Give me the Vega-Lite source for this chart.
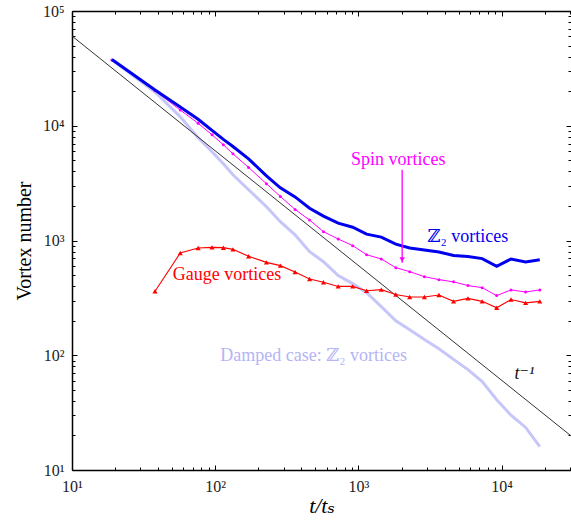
{
  "$schema": "https://vega.github.io/schema/vega-lite/v6.json",
  "width": 499,
  "height": 459,
  "autosize": {"type": "none"},
  "padding": {"left": 72, "top": 11, "right": 0, "bottom": 50},
  "background": "white",
  "config": {
    "view": {"stroke": null},
    "font": "Liberation Serif, Times New Roman, DejaVu Serif, serif",
    "axis": {
      "grid": false,
      "labelFont": "Liberation Serif, Times New Roman, DejaVu Serif, serif",
      "labelFontSize": 16,
      "labelColor": "#222",
      "tickColor": "#000",
      "tickWidth": 1,
      "domainColor": "#000",
      "domainWidth": 1.5,
      "titleFont": "Liberation Serif, Times New Roman, DejaVu Serif, serif",
      "titleFontWeight": "normal",
      "titleColor": "#000",
      "labelFlush": false,
      "labelOverlap": false
    }
  },
  "datasets": {
    "series": [
      {"series": "z2", "t": 19, "n": 37800}, {"series": "z2", "t": 38, "n": 20500}, {"series": "z2", "t": 57, "n": 14600}, {"series": "z2", "t": 76, "n": 11400}, {"series": "z2", "t": 95, "n": 9100}, {"series": "z2", "t": 114, "n": 7600}, {"series": "z2", "t": 133, "n": 6600}, {"series": "z2", "t": 171, "n": 5150}, {"series": "z2", "t": 228, "n": 3660}, {"series": "z2", "t": 285, "n": 2880}, {"series": "z2", "t": 361, "n": 2400}, {"series": "z2", "t": 456, "n": 1910}, {"series": "z2", "t": 570, "n": 1630}, {"series": "z2", "t": 722, "n": 1415}, {"series": "z2", "t": 912, "n": 1305}, {"series": "z2", "t": 1140, "n": 1135}, {"series": "z2", "t": 1444, "n": 1070}, {"series": "z2", "t": 1824, "n": 930}, {"series": "z2", "t": 2280, "n": 860}, {"series": "z2", "t": 2888, "n": 825}, {"series": "z2", "t": 3648, "n": 795}, {"series": "z2", "t": 4617, "n": 740}, {"series": "z2", "t": 5814, "n": 725}, {"series": "z2", "t": 7315, "n": 695}, {"series": "z2", "t": 9234, "n": 595}, {"series": "z2", "t": 11628, "n": 690}, {"series": "z2", "t": 14706, "n": 650}, {"series": "z2", "t": 18468, "n": 680},
      {"series": "spin", "t": 19, "n": 37500}, {"series": "spin", "t": 38, "n": 20200}, {"series": "spin", "t": 57, "n": 13700}, {"series": "spin", "t": 76, "n": 10500}, {"series": "spin", "t": 95, "n": 8340}, {"series": "spin", "t": 114, "n": 6820}, {"series": "spin", "t": 133, "n": 5690}, {"series": "spin", "t": 171, "n": 4330}, {"series": "spin", "t": 228, "n": 3120}, {"series": "spin", "t": 285, "n": 2420}, {"series": "spin", "t": 361, "n": 1865}, {"series": "spin", "t": 456, "n": 1507}, {"series": "spin", "t": 570, "n": 1193}, {"series": "spin", "t": 722, "n": 1031}, {"series": "spin", "t": 912, "n": 902}, {"series": "spin", "t": 1140, "n": 752}, {"series": "spin", "t": 1444, "n": 690}, {"series": "spin", "t": 1824, "n": 580}, {"series": "spin", "t": 2280, "n": 535}, {"series": "spin", "t": 2888, "n": 484}, {"series": "spin", "t": 3648, "n": 456}, {"series": "spin", "t": 4617, "n": 436}, {"series": "spin", "t": 5814, "n": 405}, {"series": "spin", "t": 7315, "n": 388}, {"series": "spin", "t": 9234, "n": 331}, {"series": "spin", "t": 11628, "n": 371}, {"series": "spin", "t": 14706, "n": 356}, {"series": "spin", "t": 18468, "n": 371},
      {"series": "gauge", "t": 38, "n": 361}, {"series": "gauge", "t": 57, "n": 778}, {"series": "gauge", "t": 76, "n": 861}, {"series": "gauge", "t": 95, "n": 871}, {"series": "gauge", "t": 114, "n": 866}, {"series": "gauge", "t": 133, "n": 837}, {"series": "gauge", "t": 171, "n": 728}, {"series": "gauge", "t": 228, "n": 645}, {"series": "gauge", "t": 285, "n": 604}, {"series": "gauge", "t": 361, "n": 532}, {"series": "gauge", "t": 456, "n": 462}, {"series": "gauge", "t": 570, "n": 432}, {"series": "gauge", "t": 722, "n": 398}, {"series": "gauge", "t": 912, "n": 398}, {"series": "gauge", "t": 1140, "n": 365}, {"series": "gauge", "t": 1444, "n": 373}, {"series": "gauge", "t": 1824, "n": 338}, {"series": "gauge", "t": 2280, "n": 322}, {"series": "gauge", "t": 2888, "n": 322}, {"series": "gauge", "t": 3648, "n": 335}, {"series": "gauge", "t": 4617, "n": 295}, {"series": "gauge", "t": 5814, "n": 313}, {"series": "gauge", "t": 7315, "n": 295}, {"series": "gauge", "t": 9234, "n": 259}, {"series": "gauge", "t": 11628, "n": 306}, {"series": "gauge", "t": 14706, "n": 286}, {"series": "gauge", "t": 18468, "n": 295},
      {"series": "damped", "t": 19, "n": 37500}, {"series": "damped", "t": 38, "n": 19700}, {"series": "damped", "t": 57, "n": 11950}, {"series": "damped", "t": 76, "n": 7850}, {"series": "damped", "t": 95, "n": 5930}, {"series": "damped", "t": 114, "n": 4660}, {"series": "damped", "t": 133, "n": 3740}, {"series": "damped", "t": 171, "n": 2770}, {"series": "damped", "t": 228, "n": 1970}, {"series": "damped", "t": 285, "n": 1458}, {"series": "damped", "t": 361, "n": 1122}, {"series": "damped", "t": 456, "n": 800}, {"series": "damped", "t": 570, "n": 654}, {"series": "damped", "t": 722, "n": 494}, {"series": "damped", "t": 912, "n": 421}, {"series": "damped", "t": 1140, "n": 351}, {"series": "damped", "t": 1444, "n": 265}, {"series": "damped", "t": 1824, "n": 200}, {"series": "damped", "t": 2280, "n": 167}, {"series": "damped", "t": 2888, "n": 137}, {"series": "damped", "t": 3648, "n": 114}, {"series": "damped", "t": 4617, "n": 92}, {"series": "damped", "t": 5814, "n": 75}, {"series": "damped", "t": 7315, "n": 59}, {"series": "damped", "t": 9234, "n": 41}, {"series": "damped", "t": 11628, "n": 30}, {"series": "damped", "t": 14706, "n": 23.5}, {"series": "damped", "t": 18468, "n": 16},
      {"series": "ref", "t": 10, "n": 60500}, {"series": "ref", "t": 30500, "n": 19.84}
    ],
    "labels": [
      {"text": "Spin vortices", "t": 1900, "n": 5050},
      {"text": "ℤ₂ vortices", "t": 5810, "n": 1079},
      {"text": "Gauge vortices", "t": 121, "n": 504},
      {"text": "Damped case: ℤ₂ vortices", "t": 487, "n": 99}
    ],
    "power": [{"text": "t⁻¹", "t": 14450, "n": 68}],
    "arrow": [{"t": 2020, "top": 4130, "tip": 640}]
  },
  "resolve": {"axis": {"x": "independent", "y": "independent"}},
  "layer": [
    {
      "data": {"name": "series"},
      "transform": [{"filter": "datum.series == 'damped'"}],
      "mark": {"type": "line", "color": "#c6c6fa", "strokeWidth": 3},
      "encoding": {
        "x": {"field": "t", "type": "quantitative", "scale": {"type": "log", "domain": [10, 30500], "nice": false},
          "axis": {"orient": "bottom", "values": [10, 100, 1000, 10000], "tickSize": -5, "labelPadding": 13, "labelExpr": "'10' + ['⁰','¹','²','³','⁴','⁵'][round(log(datum.value)/LN10)]", "domain": true, "title": "t/tₛ", "titleFontStyle": "italic", "titleFontSize": 22, "titlePadding": 1}},
        "y": {"field": "n", "type": "quantitative", "scale": {"type": "log", "domain": [10, 100000], "nice": false},
          "axis": {"orient": "left", "values": [10, 100, 1000, 10000, 100000], "tickSize": -5, "labelPadding": 13, "labelExpr": "'10' + ['⁰','¹','²','³','⁴','⁵'][round(log(datum.value)/LN10)]", "domain": true, "title": "Vortex number", "titleFontSize": 20, "titlePadding": 8}}
      }
    },
    {
      "data": {"name": "series"},
      "transform": [{"filter": "datum.series == 'ref'"}],
      "mark": {"type": "line", "color": "#333333", "strokeWidth": 1},
      "encoding": {
        "x": {"field": "t", "type": "quantitative", "scale": {"type": "log", "domain": [10, 30500], "nice": false},
          "axis": {"orient": "bottom", "values": [20, 30, 40, 50, 60, 70, 80, 90, 200, 300, 400, 500, 600, 700, 800, 900, 2000, 3000, 4000, 5000, 6000, 7000, 8000, 9000, 20000, 30000], "tickSize": -3, "labels": false, "domain": false, "title": null}},
        "y": {"field": "n", "type": "quantitative", "scale": {"type": "log", "domain": [10, 100000], "nice": false},
          "axis": {"orient": "left", "values": [20, 30, 40, 50, 60, 70, 80, 90, 200, 300, 400, 500, 600, 700, 800, 900, 2000, 3000, 4000, 5000, 6000, 7000, 8000, 9000, 20000, 30000, 40000, 50000, 60000, 70000, 80000, 90000], "tickSize": -3, "labels": false, "domain": false, "title": null}}
      }
    },
    {
      "data": {"name": "series"},
      "transform": [{"filter": "datum.series == 'gauge'"}],
      "mark": {"type": "line", "color": "#ff0000", "strokeWidth": 1.1, "point": {"shape": "triangle-up", "filled": true, "size": 26, "color": "#ff0000"}},
      "encoding": {
        "x": {"field": "t", "type": "quantitative", "scale": {"type": "log", "domain": [10, 30500], "nice": false},
          "axis": {"orient": "top", "values": [10, 100, 1000, 10000], "tickSize": -5, "labels": false, "domain": true, "title": null}},
        "y": {"field": "n", "type": "quantitative", "scale": {"type": "log", "domain": [10, 100000], "nice": false},
          "axis": {"orient": "right", "values": [10, 100, 1000, 10000, 100000], "tickSize": -5, "labels": false, "domain": false, "title": null}}
      }
    },
    {
      "data": {"name": "series"},
      "transform": [{"filter": "datum.series == 'spin'"}],
      "mark": {"type": "line", "color": "#ff00ff", "strokeWidth": 1, "point": {"shape": "circle", "filled": true, "size": 9, "color": "#ff00ff"}},
      "encoding": {
        "x": {"field": "t", "type": "quantitative", "scale": {"type": "log", "domain": [10, 30500], "nice": false},
          "axis": {"orient": "top", "values": [20, 30, 40, 50, 60, 70, 80, 90, 200, 300, 400, 500, 600, 700, 800, 900, 2000, 3000, 4000, 5000, 6000, 7000, 8000, 9000, 20000, 30000], "tickSize": -3, "labels": false, "domain": false, "title": null}},
        "y": {"field": "n", "type": "quantitative", "scale": {"type": "log", "domain": [10, 100000], "nice": false},
          "axis": {"orient": "right", "values": [20, 30, 40, 50, 60, 70, 80, 90, 200, 300, 400, 500, 600, 700, 800, 900, 2000, 3000, 4000, 5000, 6000, 7000, 8000, 9000, 20000, 30000, 40000, 50000, 60000, 70000, 80000, 90000], "tickSize": -3, "labels": false, "domain": false, "title": null}}
      }
    },
    {
      "data": {"name": "series"},
      "transform": [{"filter": "datum.series == 'z2'"}],
      "mark": {"type": "line", "color": "#0000ee", "strokeWidth": 3},
      "encoding": {
        "x": {"field": "t", "type": "quantitative", "scale": {"type": "log", "domain": [10, 30500], "nice": false}, "axis": null},
        "y": {"field": "n", "type": "quantitative", "scale": {"type": "log", "domain": [10, 100000], "nice": false}, "axis": null}
      }
    },
    {
      "data": {"name": "arrow"},
      "mark": {"type": "rule", "color": "#ff00ff", "strokeWidth": 1.3},
      "encoding": {
        "x": {"field": "t", "type": "quantitative", "scale": {"type": "log", "domain": [10, 30500], "nice": false}, "axis": null},
        "y": {"field": "top", "type": "quantitative", "scale": {"type": "log", "domain": [10, 100000], "nice": false}, "axis": null},
        "y2": {"field": "tip"}
      }
    },
    {
      "data": {"name": "arrow"},
      "mark": {"type": "point", "shape": "triangle-down", "filled": true, "color": "#ff00ff", "size": 30, "opacity": 1, "yOffset": -3},
      "encoding": {
        "x": {"field": "t", "type": "quantitative", "scale": {"type": "log", "domain": [10, 30500], "nice": false}, "axis": null},
        "y": {"field": "tip", "type": "quantitative", "scale": {"type": "log", "domain": [10, 100000], "nice": false}, "axis": null}
      }
    },
    {
      "data": {"name": "labels"},
      "mark": {"type": "text", "fontSize": 18, "font": "Liberation Serif, Times New Roman, DejaVu Serif, serif", "align": "center", "baseline": "middle"},
      "encoding": {
        "x": {"field": "t", "type": "quantitative", "scale": {"type": "log", "domain": [10, 30500], "nice": false}, "axis": null},
        "y": {"field": "n", "type": "quantitative", "scale": {"type": "log", "domain": [10, 100000], "nice": false}, "axis": null},
        "text": {"field": "text"},
        "color": {"field": "text", "type": "nominal", "legend": null,
          "scale": {"domain": ["Spin vortices", "ℤ₂ vortices", "Gauge vortices", "Damped case: ℤ₂ vortices"], "range": ["#ff00ff", "#0000ee", "#ff0000", "#b4b4f6"]}}
      }
    },
    {
      "data": {"name": "power"},
      "mark": {"type": "text", "fontSize": 18, "font": "Liberation Serif, Times New Roman, DejaVu Serif, serif", "fontStyle": "italic", "align": "center", "baseline": "middle", "color": "#111"},
      "encoding": {
        "x": {"field": "t", "type": "quantitative", "scale": {"type": "log", "domain": [10, 30500], "nice": false}, "axis": null},
        "y": {"field": "n", "type": "quantitative", "scale": {"type": "log", "domain": [10, 100000], "nice": false}, "axis": null},
        "text": {"field": "text"}
      }
    }
  ]
}
